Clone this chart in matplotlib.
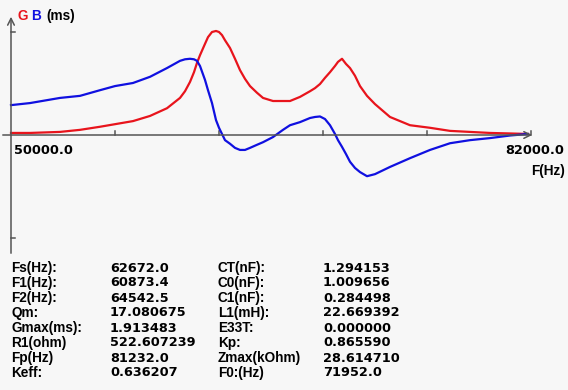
import matplotlib.pyplot as plt

# frequency points (Hz) and measured admittance (ms)
freq = [50000, 51169, 53015, 54246, 55477, 56400, 57508, 58554, 59600, 60400,
        60708, 61015, 61262, 61446, 61631, 61938, 62123, 62369, 62615, 62800,
        62985, 63169, 63477, 63785, 64092, 64400, 64708, 65138, 65508, 66123,
        66738, 67169, 67785, 68400, 68708, 69015, 69323, 69631, 69938, 70123,
        70369, 70615, 70862, 71169, 71477, 71908, 72400, 73323, 74554, 75785,
        77015, 78246, 79477, 80708, 81815]
G = [0.04, 0.04, 0.06, 0.10, 0.16, 0.21, 0.27, 0.37, 0.52, 0.72,
     0.85, 1.03, 1.22, 1.40, 1.55, 1.77, 1.90, 2.00, 2.02, 2.00,
     1.94, 1.84, 1.69, 1.48, 1.26, 1.09, 0.95, 0.82, 0.72, 0.66,
     0.66, 0.66, 0.74, 0.85, 0.91, 0.99, 1.11, 1.22, 1.34, 1.42,
     1.48, 1.38, 1.30, 1.15, 0.95, 0.76, 0.60, 0.35, 0.19, 0.14,
     0.08, 0.06, 0.04, 0.03, 0.02]
B = [0.58, 0.62, 0.72, 0.76, 0.87, 0.95, 1.01, 1.13, 1.30, 1.44,
     1.47, 1.48, 1.47, 1.44, 1.34, 1.07, 0.87, 0.62, 0.29, 0.14,
     0.02, -0.10, -0.17, -0.25, -0.29, -0.29, -0.25, -0.19, -0.14, -0.04,
     0.10, 0.19, 0.25, 0.33, 0.35, 0.36, 0.31, 0.19, 0.02, -0.10,
     -0.23, -0.37, -0.52, -0.64, -0.72, -0.80, -0.76, -0.62, -0.45, -0.29,
     -0.16, -0.10, -0.06, -0.01, 0.02]

fmin = 50000.0
fmax = 82000.0
xticks = [50000, 56400, 62800, 69200, 75600, 82000]
yticks = [2.0, -2.0]

labels1 = ['Fs(Hz):', 'F1(Hz):', 'F2(Hz):', 'Qm:', 'Gmax(ms):', 'R1(ohm)', 'Fp(Hz)', 'Keff:']
values1 = ['62672.0', '60873.4', '64542.5', '17.080675', '1.913483', '522.607239', '81232.0', '0.636207']
labels2 = ['CT(nF):', 'C0(nF):', 'C1(nF):', 'L1(mH):', 'E33T:', 'Kp:', 'Zmax(kOhm)', 'F0:(Hz)']
values2 = ['1.294153', '1.009656', '0.284498', '22.669392', '0.000000', '0.865590', '28.614710', '71952.0']

W, H = 568, 390
hz_px = (fmax - fmin) / 520.0   # Hz per pixel
v_px = 2.0 / 103.0              # ms per pixel

bg = '#f7f7f7'
axc = '#555555'
red = '#e8141c'
blue = '#1010e0'

fig = plt.figure(figsize=(W / 100, H / 100), dpi=100, facecolor=bg)
ax = fig.add_axes([0, 0, 1, 1])
ax.set_facecolor(bg)
ax.axis('off')
ax.set_xlim(fmin - 11 * hz_px, fmin + (W - 11) * hz_px)
ax.set_ylim(-(H - 135) * v_px, 135 * v_px)

# axes with arrows
ax.annotate('', xy=(fmin + 524 * hz_px, 0), xytext=(fmin - 11 * hz_px, 0),
            arrowprops=dict(arrowstyle='->', color=axc, lw=1.1, mutation_scale=12))
ax.annotate('', xy=(fmin, 121 * v_px), xytext=(fmin, -121 * v_px),
            arrowprops=dict(arrowstyle='->', color=axc, lw=1.1, mutation_scale=12))
for t in xticks[1:]:
    ax.plot([t, t], [0, 4 * v_px], color=axc, lw=1.1)
for t in yticks:
    ax.plot([fmin, fmin + 4 * hz_px], [t, t], color=axc, lw=1.1)

ax.plot(freq, G, color=red, lw=1.6)
ax.plot(freq, B, color=blue, lw=1.6)

fs_num = 9.3
fs_lab = 9.8
num_font = 'DejaVu Sans'
lab_font = 'Liberation Sans'

def px(x, y):
    return x / W, 1 - y / H

def label(x, y, s, **kw):
    fig.text(*px(x, y), s, fontsize=fs_lab, family=lab_font, fontweight='bold', va='center', **kw)

def number(x, y, s, **kw):
    fig.text(*px(x, y), s, fontsize=fs_num, family=num_font, fontweight='bold', va='center', **kw)

label(17, 16, 'G', color=red)
label(31, 16, 'B', color=blue)
label(46, 16, '(ms)')
number(14, 150, '50000.0')
number(564, 150, '82000.0', ha='right')
label(565, 171, 'F(Hz)', ha='right')

for i in range(len(labels1)):
    y = 268 + i * 15
    label(11, y, labels1[i])
    number(110, y, values1[i])
    label(218, y, labels2[i])
    number(323, y, values2[i])

fig.savefig('out.png', dpi=100, facecolor=bg)
